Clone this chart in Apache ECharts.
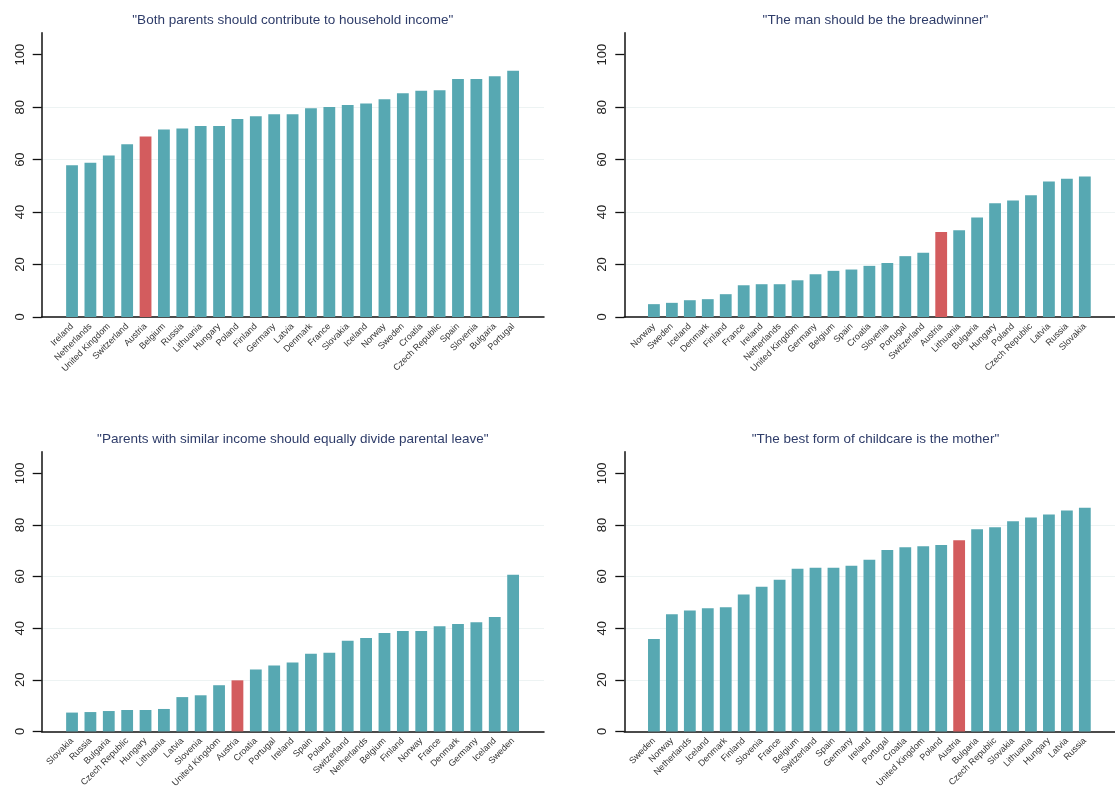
<!DOCTYPE html>
<html lang="en" style="height: 100%;width: 100%">
<head>
    <meta charset="utf-8">
</head>
<body style="height: 100%;width: 100%; margin: 0">
<div id="container" style="width: 1115px;height: 790px;"></div>

<script type="text/javascript" src="https://cdn.jsdelivr.net/npm/echarts@6/dist/echarts.min.js"></script>
<script type="text/javascript">
    // share agreeing, per country, sorted low -> high
    var titles = [
        '"Both parents should contribute to household income"',
        '"The man should be the breadwinner"',
        '"Parents with similar income should equally divide parental leave"',
        '"The best form of childcare is the mother"'
    ];

    var countriesIncome = ['Ireland', 'Netherlands', 'United Kingdom', 'Switzerland', 'Austria', 'Belgium', 'Russia',
        'Lithuania', 'Hungary', 'Poland', 'Finland', 'Germany', 'Latvia', 'Denmark', 'France', 'Slovakia', 'Iceland',
        'Norway', 'Sweden', 'Croatia', 'Czech Republic', 'Spain', 'Slovenia', 'Bulgaria', 'Portugal'];
    var valuesIncome = [57.9, 58.8, 61.6, 65.9, 68.8, 71.5, 71.9, 72.8, 72.8, 75.5, 76.5, 77.3, 77.3, 79.6, 80.1,
        80.8, 81.4, 83.0, 85.3, 86.3, 86.5, 90.7, 90.7, 91.8, 93.9];

    var countriesBread = ['Norway', 'Sweden', 'Iceland', 'Denmark', 'Finland', 'France', 'Ireland', 'Netherlands',
        'United Kingdom', 'Germany', 'Belgium', 'Spain', 'Croatia', 'Slovenia', 'Portugal', 'Switzerland', 'Austria',
        'Lithuania', 'Bulgaria', 'Hungary', 'Poland', 'Czech Republic', 'Latvia', 'Russia', 'Slovakia'];
    var valuesBread = [4.9, 5.4, 6.4, 6.8, 8.7, 12.1, 12.5, 12.5, 14.0, 16.3, 17.6, 18.1, 19.5, 20.6, 23.2, 24.5,
        32.4, 33.1, 37.9, 43.4, 44.4, 46.4, 51.7, 52.7, 53.6];

    var countriesLeave = ['Slovakia', 'Russia', 'Bulgaria', 'Czech Republic', 'Hungary', 'Lithuania', 'Latvia',
        'Slovenia', 'United Kingdom', 'Austria', 'Croatia', 'Portugal', 'Ireland', 'Spain', 'Poland', 'Switzerland',
        'Netherlands', 'Belgium', 'Finland', 'Norway', 'France', 'Denmark', 'Germany', 'Iceland', 'Sweden'];
    var valuesLeave = [7.3, 7.5, 7.9, 8.3, 8.3, 8.7, 13.3, 14.0, 17.9, 19.8, 24.0, 25.5, 26.7, 30.1, 30.5, 35.1,
        36.2, 38.1, 38.9, 38.9, 40.8, 41.6, 42.3, 44.3, 60.7];

    var countriesMother = ['Sweden', 'Norway', 'Netherlands', 'Iceland', 'Denmark', 'Finland', 'Slovenia', 'France',
        'Belgium', 'Switzerland', 'Spain', 'Germany', 'Ireland', 'Portugal', 'Croatia', 'United Kingdom', 'Poland',
        'Austria', 'Bulgaria', 'Czech Republic', 'Slovakia', 'Lithuania', 'Hungary', 'Latvia', 'Russia'];
    var valuesMother = [35.8, 45.4, 46.9, 47.7, 48.1, 53.1, 56.1, 58.8, 63.0, 63.4, 63.4, 64.2, 66.5, 70.3, 71.4,
        71.8, 72.2, 74.1, 78.3, 79.1, 81.4, 82.9, 84.1, 85.6, 86.7];

    var yTicks = [0, 20, 40, 60, 80, 100];
    var highlight = 'Austria';

    var panelCountries = [countriesIncome, countriesBread, countriesLeave, countriesMother];
    var panelValues = [valuesIncome, valuesBread, valuesLeave, valuesMother];

    var teal = '#57a8b2';
    var red = '#d35c5e';
    var font = 'Liberation Sans, Arial, sans-serif';

    // panel boxes (px)
    var lefts = [41.7, 624.3, 41.7, 624.3];
    var tops = [32.7, 32.7, 451.7, 451.7];
    var plotW = 502.3, plotH = 284.3;

    var dom = document.getElementById('container');
    var myChart = echarts.init(dom, null, {renderer: 'canvas'});

    var grid = [], xAxis = [], yAxis = [], series = [], title = [];

    for (var p = 0; p < 4; p++) {
        (function (p) {
            var names = panelCountries[p];
            var vals = panelValues[p];
            var idx = names.map(function (n, i) { return i; });

            grid.push({left: lefts[p], top: tops[p], width: plotW, height: plotH, containLabel: false});

            title.push({
                text: titles[p],
                left: lefts[p] + plotW / 2,
                top: tops[p] - 19,
                padding: 0,
                textAlign: 'center',
                textStyle: {fontFamily: font, fontSize: 13.5, fontWeight: 'normal', color: '#2e3c69'}
            });

            xAxis.push({
                type: 'value',
                gridIndex: p,
                min: -1.65,
                max: 25.68,
                axisLine: {show: true, onZero: false, lineStyle: {color: '#111', width: 1.5}},
                axisTick: {show: false},
                splitLine: {show: false},
                axisLabel: {
                    customValues: idx,
                    rotate: 45,
                    margin: 8,
                    fontFamily: font,
                    fontSize: 9,
                    color: '#333',
                    formatter: function (v) { return names[v] || ''; }
                }
            });

            yAxis.push({
                type: 'value',
                gridIndex: p,
                min: 0,
                max: 108.4,
                interval: 20,
                axisLine: {show: true, onZero: false, lineStyle: {color: '#111', width: 1.5}},
                axisTick: {show: true, length: 9, customValues: yTicks, lineStyle: {color: '#111', width: 1.3}},
                axisLabel: {
                    customValues: yTicks,
                    rotate: 90,
                    margin: 15,
                    fontFamily: font,
                    fontSize: 13,
                    color: '#222',
                    formatter: function (v) { return v % 20 === 0 ? String(v) : ''; }
                },
                splitLine: {show: true, showMinLine: false, showMaxLine: false, lineStyle: {color: '#edf3f3', width: 1}}
            });

            series.push({
                type: 'bar',
                xAxisIndex: p,
                yAxisIndex: p,
                barWidth: 11.8,
                animation: false,
                data: vals.map(function (v, i) { return [i, v]; }),
                itemStyle: {
                    color: function (params) {
                        return names[params.dataIndex] === highlight ? red : teal;
                    }
                }
            });
        })(p);
    }

    var option = {
        backgroundColor: '#fff',
        animation: false,
        title: title,
        grid: grid,
        xAxis: xAxis,
        yAxis: yAxis,
        series: series
    };
    myChart.setOption(option);
</script>
</body>
</html>
